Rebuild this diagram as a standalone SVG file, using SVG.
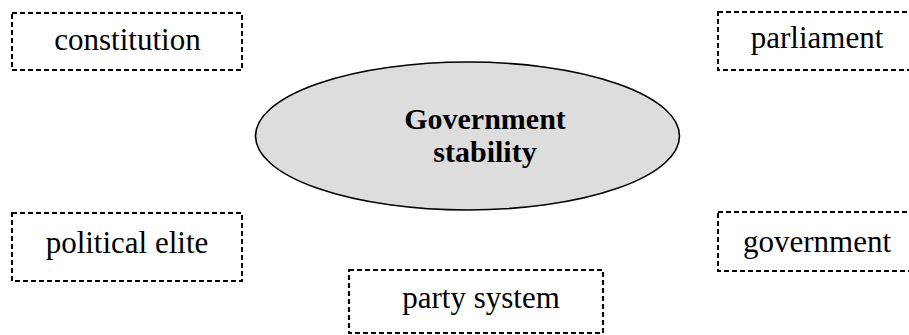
<svg xmlns="http://www.w3.org/2000/svg" width="909" height="335" viewBox="0 0 909 335">
<style>
.box{fill:#fff;stroke:#000;stroke-width:2;stroke-dasharray:5,3}
.t{font-family:"Liberation Serif","Times New Roman",serif;font-size:31px;fill:#000;text-anchor:middle}
.b{font-family:"Liberation Serif","Times New Roman",serif;font-size:30px;font-weight:bold;fill:#000;text-anchor:middle}
</style>
<rect width="909" height="335" fill="#fff"/>
<g id="connectors"></g>
<g id="n-center">
<ellipse cx="467.5" cy="136" rx="212" ry="74" fill="#ddd" stroke="#000" stroke-width="1.6"/>
<text class="b" x="485" y="129">Government</text>
<text class="b" x="485" y="162">stability</text>
</g>
<g id="n-constitution">
<rect class="box" x="12" y="13" width="230" height="57"/>
<text class="t" x="127.5" y="50">constitution</text>
</g>
<g id="n-parliament">
<rect class="box" x="718" y="12" width="200" height="58"/>
<text class="t" x="817" y="48">parliament</text>
</g>
<g id="n-elite">
<rect class="box" x="12" y="213" width="230" height="68"/>
<text class="t" x="127" y="253">political elite</text>
</g>
<g id="n-government">
<rect class="box" x="718" y="212" width="200" height="59"/>
<text class="t" x="817" y="252">government</text>
</g>
<g id="n-party">
<rect class="box" x="349" y="270" width="254" height="63"/>
<text class="t" x="481" y="308">party system</text>
</g>
</svg>
